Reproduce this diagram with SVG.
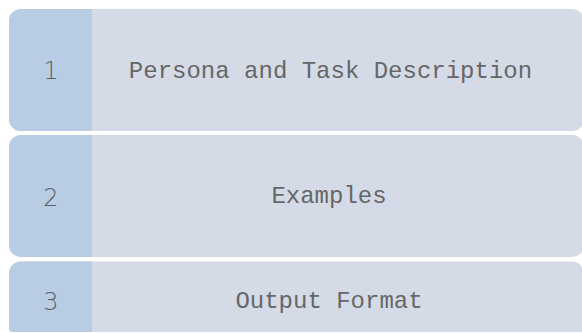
<svg xmlns="http://www.w3.org/2000/svg" width="582" height="333" viewBox="0 0 582 333">
  <style>
    .body { fill: #d4dbe6; }
    .tab { fill: #b8cce4; }
    .num { font-family: "DejaVu Sans", sans-serif; font-weight: 300; font-size: 24px; fill: #5f5f5f; text-anchor: middle; }
    .label { font-family: "Liberation Mono", "Courier New", monospace; font-size: 24px; fill: #666666; text-anchor: middle; }
  </style>
  <rect width="582" height="333" fill="#ffffff"/>

  <!-- step 1 -->
  <g id="step1">
    <rect class="body" x="9" y="9" width="575" height="122" rx="12" ry="12"/>
    <path class="tab" d="M92 9 H21 A12 12 0 0 0 9 21 V119 A12 12 0 0 0 21 131 H92 Z"/>
    <text class="num" x="51" y="79">1</text>
    <text class="label" x="330.5" y="78">Persona and Task Description</text>
  </g>

  <!-- step 2 -->
  <g id="step2">
    <rect class="body" x="9" y="135" width="575" height="122" rx="12" ry="12"/>
    <path class="tab" d="M92 135 H21 A12 12 0 0 0 9 147 V245 A12 12 0 0 0 21 257 H92 Z"/>
    <text class="num" x="51" y="206">2</text>
    <text class="label" x="329" y="203">Examples</text>
  </g>

  <!-- step 3 -->
  <g id="step3">
    <path class="body" d="M21 261.5 H572 A12 12 0 0 1 584 273.5 V328 A4 4 0 0 1 580 332 H13 A4 4 0 0 1 9 328 V273.5 A12 12 0 0 1 21 261.5 Z"/>
    <path class="tab" d="M92 261.5 H21 A12 12 0 0 0 9 273.5 V328 A4 4 0 0 0 13 332 H92 Z"/>
    <text class="num" x="51" y="310">3</text>
    <text class="label" x="329" y="308">Output Format</text>
  </g>

  <g id="connectors"></g>
</svg>
